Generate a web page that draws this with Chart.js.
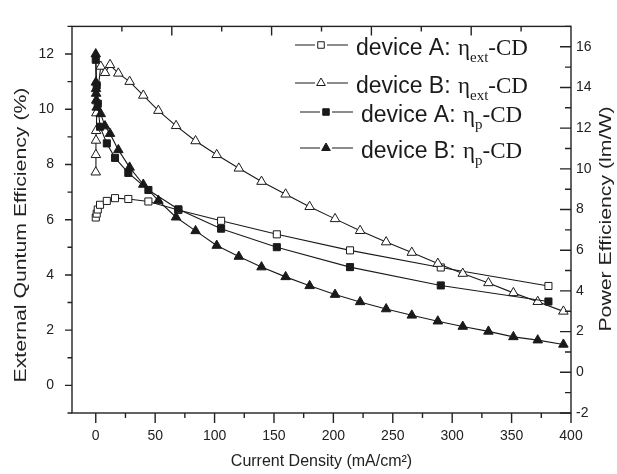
<!DOCTYPE html>
<html>
<head>
<meta charset="utf-8">
<script src="https://cdn.jsdelivr.net/npm/chart.js@4/dist/chart.umd.min.js"></script>
<style>
  html, body { margin: 0; padding: 0; background: #fff; }
  #wrap { width: 617px; height: 474px; }
</style>
</head>
<body>
<div id="wrap"><canvas id="graphique" width="617" height="474"></canvas></div>
<script>
// Current density (mA/cm2) for each device
var densityA = [0, 0.8, 1.7, 3.6, 9.3, 16.2, 27.4, 44.3, 69.5, 105.5, 152.4, 214, 290.4, 381];
var densityB = [0, 0.1, 0.2, 0.3, 0.5, 0.8, 4.2, 7.8, 12, 19, 28.5, 40, 52.7, 67.6, 84, 101.8,
                120.4, 139.5, 159.8, 180, 201.4, 222.5, 244.4, 266, 287.9, 308.9, 330.5, 351.5, 372, 393.6];

// External quantum efficiency (%)
var extA = [6.08, 6.22, 6.37, 6.54, 6.68, 6.78, 6.75, 6.66, 6.35, 5.96, 5.47, 4.89, 4.27, 3.60];
var extB = [7.72, 8.35, 8.87, 9.22, 9.86, 10.3, 11.55, 11.32, 11.61, 11.3, 11.0, 10.5, 9.95, 9.40, 8.85, 8.35,
            7.86, 7.38, 6.92, 6.47, 6.03, 5.60, 5.19, 4.81, 4.41, 4.05, 3.71, 3.35, 3.03, 2.68];

// Power efficiency (lm/W)
var powA = [15.36, 14.1, 13.2, 12.07, 11.25, 10.54, 9.80, 8.96, 8.01, 7.06, 6.15, 5.17, 4.27, 3.48];
var powB = [15.64, 14.25, 13.93, 13.70, 13.38, 13.02, 12.7, 12.1, 11.73, 10.93, 10.07, 9.23, 8.44, 7.62, 6.95, 6.23,
            5.69, 5.17, 4.69, 4.25, 3.82, 3.46, 3.11, 2.80, 2.51, 2.25, 2.01, 1.74, 1.58, 1.37];

// Tick labels
var xTicks = [0, 50, 100, 150, 200, 250, 300, 350, 400];
var leftTicks = [0, 2, 4, 6, 8, 10, 12];
var rightTicks = [-2, 0, 2, 4, 6, 8, 10, 12, 14, 16];

var legendNames = ["device A: ", "device B: ", "device A: ", "device B: "];
var legendSubs = ["ext", "ext", "p", "p"];

var INK = "#1a1a1a";
var SANS = "'Liberation Sans', Arial, sans-serif";
var SERIF = "'Liberation Serif', 'Times New Roman', serif";

function toPoints(xs, ys) {
  var pts = [];
  for (var i = 0; i < xs.length; i++) pts.push({ x: xs[i], y: ys[i] });
  return pts;
}

function serie(xs, ys, axis, style, filled, radius, order) {
  return {
    data: toPoints(xs, ys),
    yAxisID: axis,
    borderColor: INK,
    borderWidth: 1.1,
    pointStyle: style,
    pointRadius: radius,
    pointBorderWidth: 1,
    pointBorderColor: INK,
    pointBackgroundColor: filled ? INK : "#fff",
    fill: false,
    tension: 0,
    order: order
  };
}

var datasets = [
  serie(densityA, extA, "yL", "rect", false, 5, 3),
  serie(densityB, extB, "yL", "triangle", false, 5.5, 2),
  serie(densityA, powA, "yR", "rect", true, 5, 1),
  serie(densityB, powB, "yR", "triangle", true, 5.5, 0)
];

function fixTicks(list) {
  return function (scale) {
    scale.ticks = list.map(function (v) { return { value: v }; });
  };
}

function drawMarker(ctx, style, filled, x, y, r) {
  ctx.beginPath();
  if (style === "rect") {
    var s = Math.SQRT1_2 * r;
    ctx.rect(x - s, y - s, 2 * s, 2 * s);
  } else {
    ctx.moveTo(x, y - r);
    ctx.lineTo(x + Math.sin(2 * Math.PI / 3) * r, y + r / 2);
    ctx.lineTo(x - Math.sin(2 * Math.PI / 3) * r, y + r / 2);
    ctx.closePath();
  }
  ctx.fillStyle = filled ? INK : "#fff";
  ctx.fill();
  ctx.lineWidth = 1;
  ctx.strokeStyle = INK;
  ctx.stroke();
}

// vertical title, a bit stretched along its length like the original
function verticalTitle(ctx, text, x, y) {
  ctx.save();
  ctx.translate(x, y);
  ctx.rotate(-Math.PI / 2);
  ctx.scale(1.25, 1);
  ctx.fillText(text, 0, 0);
  ctx.restore();
}

// frame + tick marks (minor ticks, inward ticks on right and top)
var axesPlugin = {
  id: "axesPlugin",
  afterDraw: function (chart) {
    var ctx = chart.ctx, a = chart.chartArea;
    var sx = chart.scales.x, sl = chart.scales.yL, sr = chart.scales.yR;
    var v, p, len;
    ctx.save();
    ctx.strokeStyle = "#222";
    ctx.lineWidth = 1.4;
    ctx.strokeRect(a.left, a.top, a.right - a.left, a.bottom - a.top);
    ctx.beginPath();
    for (v = 0; v <= 400; v += 25) {
      p = sx.getPixelForValue(v);
      len = v % 50 === 0 ? 10 : 5;
      ctx.moveTo(p, a.bottom);
      ctx.lineTo(p, a.bottom + len);
    }
    for (v = -1; v <= 13; v++) {
      p = sl.getPixelForValue(v);
      len = v % 2 === 0 ? 7 : 4.5;
      ctx.moveTo(a.left, p);
      ctx.lineTo(a.left - len, p);
    }
    for (v = -2; v <= 17; v++) {
      p = sr.getPixelForValue(v);
      len = v % 2 === 0 ? 11 : 6;
      ctx.moveTo(a.right, p);
      ctx.lineTo(a.right - len, p);
    }
    for (var i = 1; i < 10; i++) {
      p = a.left + (a.right - a.left) * i / 10;
      len = i % 2 === 0 ? 9 : 5;
      ctx.moveTo(p, a.top);
      ctx.lineTo(p, a.top + len);
    }
    ctx.stroke();

    // axis titles
    ctx.fillStyle = "#222";
    ctx.textAlign = "center";
    ctx.textBaseline = "middle";
    ctx.font = "17px " + SANS;
    verticalTitle(ctx, "External Quntum Efficiency (%)", 21, 235);
    verticalTitle(ctx, "Power Efficiency (lm/W)", 606, 219);
    ctx.font = "16px " + SANS;
    ctx.fillText("Current Density (mA/cm\u00B2)", (a.left + a.right) / 2, 462);

    // legend
    var rowY = [45, 83, 112, 148];
    var rowX = [295, 295, 300, 300];
    for (var r = 0; r < 4; r++) {
      var ds = chart.data.datasets[r];
      var y = rowY[r], x0 = rowX[r];
      ctx.beginPath();
      ctx.lineWidth = 1.1;
      ctx.strokeStyle = INK;
      ctx.moveTo(x0, y); ctx.lineTo(x0 + 20, y);
      ctx.moveTo(x0 + 32, y); ctx.lineTo(x0 + 53, y);
      ctx.stroke();
      drawMarker(ctx, ds.pointStyle, ds.pointBackgroundColor !== "#fff", x0 + 26, y, ds.pointStyle === "rect" ? 4.6 : 5);
      var tx = x0 + 61, base = y + 9.5;
      ctx.textAlign = "left";
      ctx.textBaseline = "alphabetic";
      ctx.fillStyle = INK;
      ctx.font = "23px " + SANS;
      ctx.fillText(legendNames[r], tx, base);
      tx += ctx.measureText(legendNames[r]).width + 1;
      ctx.font = "23px " + SERIF;
      ctx.fillText("\u03B7", tx, base);
      tx += ctx.measureText("\u03B7").width;
      ctx.font = "15px " + SERIF;
      ctx.fillText(legendSubs[r], tx, base + 7);
      tx += ctx.measureText(legendSubs[r]).width;
      ctx.font = "23px " + SERIF;
      ctx.fillText("-CD", tx, base);
    }
    ctx.restore();
  }
};

var tickFont = { family: SANS, size: 14 };

var ctx = document.getElementById("graphique").getContext("2d");
var chart = new Chart(ctx, {
  type: "line",
  data: { datasets: datasets },
  options: {
    responsive: false,
    animation: false,
    devicePixelRatio: 1,
    layout: { padding: { top: 12, left: 0, right: 0, bottom: 0 } },
    plugins: {
      legend: { display: false },
      tooltip: { enabled: false }
    },
    scales: {
      x: {
        type: "linear",
        position: "bottom",
        min: -20,
        max: 400,
        afterBuildTicks: fixTicks(xTicks),
        afterFit: function (s) { s.height = 61; },
        grid: { display: false, drawTicks: false },
        border: { display: false },
        ticks: { font: tickFont, color: "#222", padding: 15, maxRotation: 0 }
      },
      yL: {
        type: "linear",
        position: "left",
        min: -1,
        max: 13,
        afterBuildTicks: fixTicks(leftTicks),
        afterFit: function (s) { s.width = 72; },
        grid: { display: false, drawTicks: false },
        border: { display: false },
        ticks: { font: tickFont, color: "#222", padding: 18 }
      },
      yR: {
        type: "linear",
        position: "right",
        min: -2,
        max: 17,
        afterBuildTicks: fixTicks(rightTicks),
        afterFit: function (s) { s.width = 46; },
        grid: { display: false, drawTicks: false },
        border: { display: false },
        ticks: { font: tickFont, color: "#222", padding: 5 }
      }
    }
  },
  plugins: [axesPlugin]
});
</script>
</body>
</html>
